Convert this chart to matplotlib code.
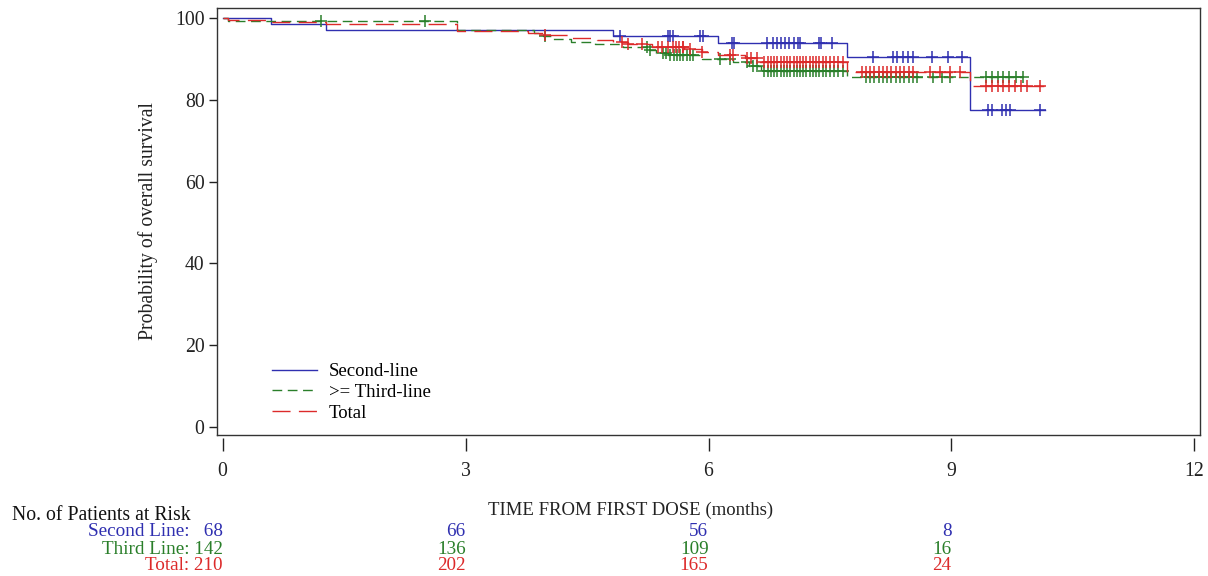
import numpy as np
import matplotlib
matplotlib.use("Agg")
import matplotlib.pyplot as plt
from matplotlib.lines import Line2D

plt.rcParams['font.family'] = ['Liberation Serif', 'DejaVu Serif']
plt.rcParams['lines.scale_dashes'] = False

# ---------------- data ----------------
blue_t = [0, 0.6, 1.27, 4.82, 6.12, 7.71, 9.23]
blue_s = [100, 98.5, 97.1, 95.6, 93.9, 90.4, 77.5]
blue_end = 10.15
blue_cens = [4.91, 5.50, 5.53, 5.56, 5.90, 5.93, 6.29, 6.31, 6.72, 6.80, 6.85, 6.90,
             6.95, 7.00, 7.05, 7.10, 7.13, 7.37, 7.39, 7.52, 8.03, 8.28, 8.33, 8.40,
             8.46, 8.52, 8.76, 8.96, 9.13, 9.45, 9.50, 9.62, 9.68, 9.72, 10.10]

green_t = [0, 0.07, 2.9, 3.85, 3.95, 4.05, 4.3, 4.6, 4.95, 5.25, 5.35, 5.5, 5.92,
           6.3, 6.5, 6.65, 7.71]
green_s = [100, 99.3, 97.1, 96.4, 95.7, 95.0, 94.3, 93.6, 92.9, 92.2, 91.5, 91.0,
           90.0, 89.2, 88.4, 87.0, 85.5]
green_end = 9.88
green_cens = [1.22, 2.50, 3.98, 5.24, 5.28, 5.44, 5.48, 5.52, 5.57, 5.61, 5.65, 5.69,
              5.73, 5.77, 5.81, 6.14, 6.27, 6.48, 6.55, 6.60, 6.69, 6.73, 6.77, 6.81,
              6.85, 6.89, 6.93, 6.97, 7.01, 7.05, 7.09, 7.13, 7.17, 7.21, 7.25, 7.29,
              7.33, 7.37, 7.41, 7.45, 7.50, 7.55, 7.60, 7.66, 7.95, 8.00, 8.05, 8.10,
              8.15, 8.20, 8.26, 8.31, 8.36, 8.42, 8.47, 8.52, 8.57, 8.77, 8.88, 8.98,
              9.43, 9.50, 9.57, 9.64, 9.71, 9.80, 9.88]

red_t = [0, 0.07, 0.6, 1.27, 2.9, 3.77, 3.95, 4.3, 4.62, 4.82, 5.0, 5.3, 5.7, 5.92,
         6.12, 6.45, 6.64, 7.71, 9.23]
red_s = [100, 99.5, 99.0, 98.6, 96.8, 96.3, 95.8, 95.1, 94.6, 94.1, 93.6, 92.9, 92.4,
         91.8, 91.0, 90.2, 89.4, 86.9, 83.3]
red_end = 10.18
red_cens = [3.98, 4.93, 5.00, 5.18, 5.38, 5.43, 5.50, 5.56, 5.60, 5.64, 5.68, 5.69,
            5.77, 5.92, 6.27, 6.30, 6.47, 6.53, 6.60, 6.69, 6.73, 6.77, 6.81, 6.85,
            6.89, 6.93, 6.97, 7.01, 7.05, 7.09, 7.13, 7.17, 7.21, 7.25, 7.29, 7.33,
            7.37, 7.41, 7.45, 7.50, 7.55, 7.60, 7.66, 7.90, 7.95, 8.00, 8.05, 8.10,
            8.15, 8.20, 8.26, 8.31, 8.36, 8.42, 8.47, 8.52, 8.73, 8.86, 8.98, 9.10,
            9.43, 9.50, 9.57, 9.64, 9.71, 9.78, 9.86, 9.93, 10.10]

risk_times = [0, 3, 6, 9]
risk_second = [68, 66, 56, 8]
risk_third = [142, 136, 109, 16]
risk_total = [210, 202, 165, 24]

legend_labels = ["Second-line", ">= Third-line", "Total"]
xticks = [0, 3, 6, 9, 12]
yticks = [0, 20, 40, 60, 80, 100]

# ---------------- style ----------------
BLUE = '#2f2fb0'
GREEN = '#2a7f2a'
RED = '#dc2a2a'
FS = 14.2

fig = plt.figure(figsize=(12.08, 5.76), dpi=100)
ax = fig.add_axes([217/1208, 1-435/576, (1200-217)/1208, (435-8)/576])


def km(ax, t, s, end, cens, color, ls):
    tt = list(t) + [end]
    ss = list(s) + [s[-1]]
    ax.step(tt, ss, where='post', color=color, lw=1.0, linestyle=ls)
    tarr = np.asarray(t)
    sarr = np.asarray(s)
    idx = np.searchsorted(tarr, np.asarray(cens), side='right') - 1
    ax.plot(cens, sarr[idx], linestyle='none', marker='+', ms=8, mew=1.1,
            color=color)


km(ax, blue_t, blue_s, blue_end, blue_cens, BLUE, '-')
km(ax, green_t, green_s, green_end, green_cens, GREEN, (0, (7, 4)))
km(ax, red_t, red_s, red_end, red_cens, RED, (0, (13, 6)))

ax.set_xlim(-0.07, 12.07)
ax.set_ylim(-2.0, 102.5)
ax.set_yticks(yticks)
ax.set_xticks(xticks)
ax.tick_params(axis='x', bottom=False, labelbottom=False)
ax.tick_params(axis='y', direction='out', length=6, width=1, pad=3, labelsize=FS,
               colors='#222222')
for sp in ax.spines.values():
    sp.set_color('#333333')
    sp.set_linewidth(1.0)

# detached x axis (ticks start slightly below the frame)
secax = ax.secondary_xaxis(-3/427)
secax.set_xticks(xticks)
secax.spines['bottom'].set_visible(False)
secax.tick_params(axis='x', direction='out', length=9, width=1, pad=8, labelsize=FS,
                  colors='#222222')

ax.set_ylabel("Probability of overall survival", fontsize=FS, color='#222222')
ax.yaxis.set_label_coords(-0.060, 0.5)

handles = [Line2D([], [], color=BLUE, lw=1.0, linestyle='-'),
           Line2D([], [], color=GREEN, lw=1.0, linestyle=(0, (7, 4))),
           Line2D([], [], color=RED, lw=1.0, linestyle=(0, (13, 6)))]
ax.legend(handles, legend_labels, loc='lower left', bbox_to_anchor=(0.043, 0.0),
          frameon=False, fontsize=13.5, handlelength=2.4, handletextpad=0.6,
          labelspacing=0.2, borderpad=0.2)

# x label and risk table (figure pixel positions)
def fy(py):
    return 1 - py / 576

fig.text(631/1208, fy(510), "TIME FROM FIRST DOSE (months)", ha='center',
         va='center', fontsize=13.5, color='#222222')
fig.text(12/1208, fy(516), "No. of Patients at Risk", ha='left', va='center',
         fontsize=FS, color='#111111')

trans = matplotlib.transforms.blended_transform_factory(ax.transData, fig.transFigure)
rows = [("Second Line:   ", risk_second, BLUE, 532),
        ("Third Line: ", risk_third, GREEN, 549),
        ("Total: ", risk_total, RED, 566)]
for lab, vals, col, py in rows:
    for i, (tm, v) in enumerate(zip(risk_times, vals)):
        txt = (lab + str(v)) if i == 0 else str(v)
        ax.text(tm, fy(py), txt, transform=trans, ha='right', va='center',
                fontsize=13.8, color=col, clip_on=False)

fig.savefig("out.png", dpi=100)
